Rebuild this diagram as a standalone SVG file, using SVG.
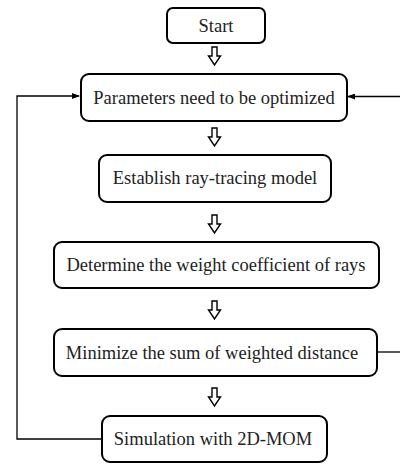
<svg xmlns="http://www.w3.org/2000/svg" width="400" height="464" viewBox="0 0 400 464">
<style>
.box{fill:#fff;stroke:#000;stroke-width:2;}
text{font-family:'Liberation Serif','Times New Roman',Times,serif;font-size:18.5px;fill:#222;text-anchor:middle;}
.ln{fill:none;stroke:#000;stroke-width:1.3;}
.ha{fill:#fff;stroke:#000;stroke-width:1.4;}
</style>
<defs>
<marker id="ah" markerWidth="8" markerHeight="6" refX="7" refY="3" orient="auto" markerUnits="userSpaceOnUse">
<path d="M0,0 L8,3 L0,6 Z" fill="#000"/>
</marker>
<path id="hollow" d="M-2.5,0 L2.5,0 L2.5,9 L6,9 L0,18 L-6,9 L-2.5,9 Z"/>
</defs>
<g id="connectors">
<use href="#hollow" class="ha" x="214.5" y="47"/>
<use href="#hollow" class="ha" x="214.5" y="128"/>
<use href="#hollow" class="ha" x="214.5" y="215"/>
<use href="#hollow" class="ha" x="214.5" y="301"/>
<use href="#hollow" class="ha" x="214.5" y="388"/>
<polyline class="ln" points="102,439 17,439 17,96 79,96" marker-end="url(#ah)"/>
<line class="ln" x1="400" y1="96.5" x2="348" y2="96.5" marker-end="url(#ah)"/>
<line class="ln" x1="377" y1="352" x2="400" y2="352"/>
</g>
<g id="start">
<rect class="box" x="167" y="8" width="98" height="35" rx="6"/>
<text x="216" y="32">Start</text>
</g>
<g id="params">
<rect class="box" x="81" y="74" width="266" height="47" rx="8"/>
<text x="214" y="104">Parameters need to be optimized</text>
</g>
<g id="establish">
<rect class="box" x="99" y="155" width="232" height="47" rx="8"/>
<text x="215" y="184">Establish ray-tracing model</text>
</g>
<g id="determine">
<rect class="box" x="54" y="242" width="325" height="46" rx="8"/>
<text x="216" y="271">Determine the weight coefficient of rays</text>
</g>
<g id="minimize">
<rect class="box" x="54" y="329" width="323" height="47" rx="8"/>
<text x="212" y="359">Minimize the sum of weighted distance</text>
</g>
<g id="simulation">
<rect class="box" x="102" y="416" width="225" height="46" rx="8"/>
<text x="213" y="445">Simulation with 2D-MOM</text>
</g>
</svg>
